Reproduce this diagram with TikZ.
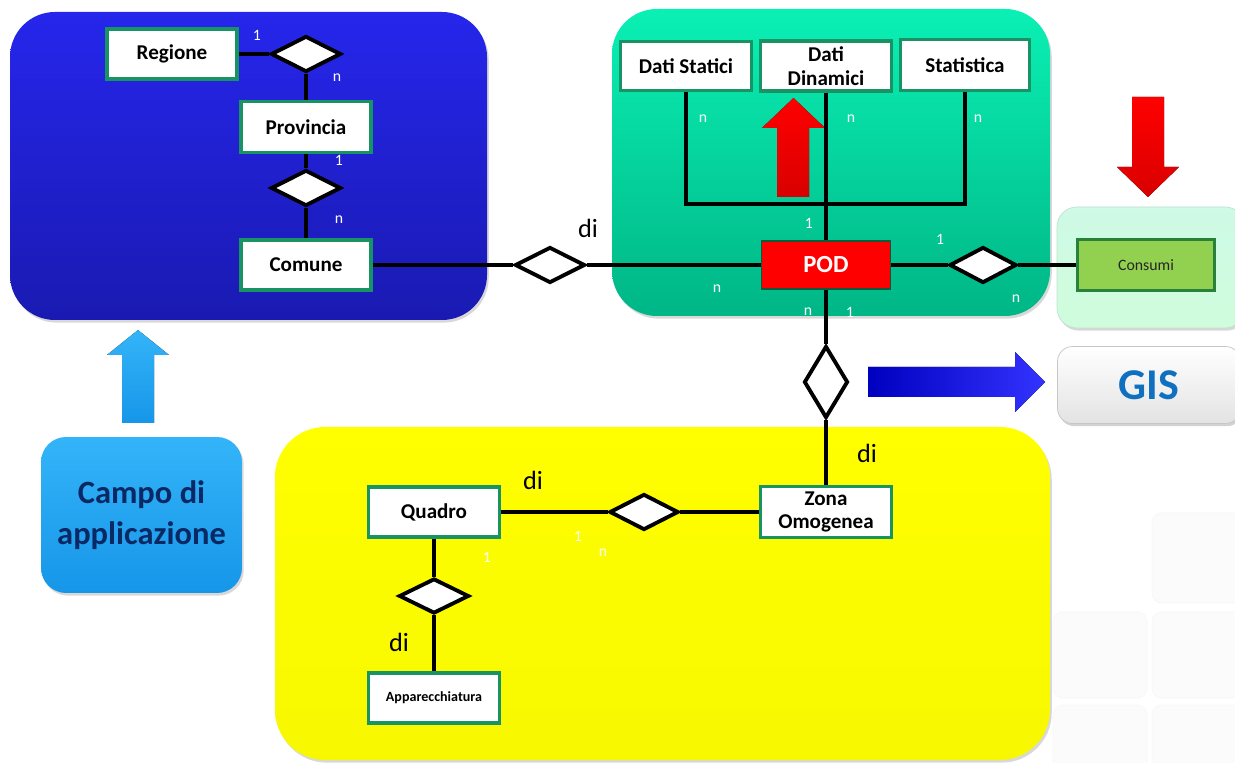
\documentclass[tikz,border=0pt]{standalone}
\usepackage{fontspec}
\setmainfont{Carlito}
\usepackage{tikz}
\usetikzlibrary{shapes.geometric}
\usetikzlibrary{shadows}
\usetikzlibrary{positioning}

\definecolor{erGreen}{RGB}{24,148,100}
\definecolor{panelBlueTop}{RGB}{38,38,236}
\definecolor{panelBlueBot}{RGB}{26,26,178}
\definecolor{panelGreenTop}{RGB}{10,240,180}
\definecolor{panelGreenBot}{RGB}{0,182,134}
\definecolor{panelMint}{RGB}{206,250,230}
\definecolor{skyTop}{RGB}{52,180,248}
\definecolor{skyBot}{RGB}{22,150,232}
\definecolor{campoText}{RGB}{10,40,100}
\definecolor{gisText}{RGB}{16,112,192}
\definecolor{consumiFill}{RGB}{146,208,80}
\definecolor{consumiLine}{RGB}{40,130,60}

\begin{document}
\begin{tikzpicture}
			[x=0.02cm,y=-0.02cm,
			entity/.style={rectangle,draw=erGreen,line width=2pt,fill=white,align=center,
				inner sep=0pt,font=\bfseries\fontsize{12}{13.6}\selectfont},
			relation/.style={diamond,draw=black,line width=2.2pt,fill=white,inner sep=0pt,
				minimum width=1.4cm,minimum height=0.72cm},
			link/.style={line width=2.2pt},
			card/.style={text=white,inner sep=0pt,font=\fontsize{9}{10}\selectfont},
			dilabel/.style={inner sep=0pt,font=\fontsize{15}{16}\selectfont},
			panel/.style={rounded corners=0.9cm,drop shadow={opacity=0.3,shadow xshift=1pt,shadow yshift=-1.5pt}},
			tile/.style={rounded corners=0.2cm,fill=gray!3,draw=gray!6}]
			\useasboundingbox (0,0) rectangle (1235,763);
			\fill[white] (0,0) rectangle (1235,763);
			
			% faint tiles in the background
			\draw[tile] (1152,513) rectangle (1245,603);
			\draw[tile] (1053,612) rectangle (1147,698);
			\draw[tile] (1152,612) rectangle (1245,698);
			\draw[tile] (1053,705) rectangle (1147,775);
			\draw[tile] (1152,705) rectangle (1245,775);
			
			% panels
			\path[panel,top color=panelBlueTop,bottom color=panelBlueBot] (10,12) rectangle (487,320);
			\path[panel,top color=panelGreenTop,bottom color=panelGreenBot] (612,9) rectangle (1050,316);
			\path[panel,rounded corners=0.4cm,top color=panelMint,bottom color=panelMint!85!green!60!white,
				draw=panelMint!80!gray] (1057,207) rectangle (1245,328);
			\path[panel,rounded corners=1cm,top color=yellow,bottom color=yellow!97!black] (275,427) rectangle (1050,760);
			
			\node[rounded corners=0.5cm,top color=skyTop,bottom color=skyBot,minimum width=4.02cm,minimum height=3.12cm,
				drop shadow={opacity=0.3,shadow xshift=1pt,shadow yshift=-1.5pt},align=center,text=campoText,
				font=\bfseries\fontsize{18.5}{23}\selectfont] (campo) at (141.5,515) {Campo di\\applicazione};
			\node[rounded corners=0.3cm,top color=white,bottom color=gray!22,draw=gray!45,minimum width=3.66cm,
				minimum height=1.54cm,drop shadow={opacity=0.35,shadow xshift=1pt,shadow yshift=-1.5pt},
				text=gisText,font=\bfseries\fontsize{25}{28}\selectfont] (gis) at (1149,385) {GIS};
			
			% block arrows
			\fill[top color=skyTop,bottom color=skyBot] (122,423) -- (122,355) -- (107,355) -- (138,330)
				-- (169,355) -- (154,355) -- (154,423) -- cycle;
			\fill[top color=red,bottom color=red!85!black] (777,197) -- (777,128) -- (762,128) -- (793.5,98)
				-- (825,128) -- (809,128) -- (809,197) -- cycle;
			\fill[top color=red,bottom color=red!85!black] (1132,97) -- (1164,97) -- (1164,167) -- (1179,167)
				-- (1148,197) -- (1117,167) -- (1132,167) -- cycle;
			\fill[left color=blue!75!black,right color=blue!80!white] (868,367) -- (1015,367) -- (1015,352) -- (1045,382)
				-- (1015,412) -- (1015,397) -- (868,397) -- cycle;
			
			% entities
			\node[entity,minimum width=2.6cm,minimum height=1cm] (reg) at (172,54) {Regione};
			\node[entity,minimum width=2.6cm,minimum height=1.02cm] (prov) at (306,127) {Provincia};
			\node[entity,minimum width=2.6cm,minimum height=1cm] (com) at (306,265) {Comune};
			\node[entity,minimum width=2.62cm,minimum height=0.98cm] (stat) at (686,66) {Dati Statici};
			\node[entity,minimum width=2.62cm,minimum height=1cm] (dyn) at (826,66) {Dati\\Dinamici};
			\node[entity,minimum width=2.58cm,minimum height=1.02cm] (stc) at (965,65) {Statistica};
			\node[entity,fill=red,draw=erGreen!60!black,line width=1pt,text=white,minimum width=2.58cm,
				minimum height=0.96cm,font=\bfseries\fontsize{14}{16}\selectfont] (pod) at (826,265) {POD};
			\node[entity,fill=consumiFill,draw=consumiLine,minimum width=2.74cm,minimum height=1.02cm,
				text=black!85,font=\fontsize{9}{10}\selectfont] (cons) at (1146,265) {Consumi};
			\node[entity,minimum width=2.62cm,minimum height=1cm] (quad) at (434,512) {Quadro};
			\node[entity,minimum width=2.62cm,minimum height=1.02cm] (zona) at (826,512) {Zona\\Omogenea};
			\node[entity,minimum width=2.62cm,minimum height=1cm,
				font=\bfseries\fontsize{8}{9}\selectfont] (app) at (434,698) {Apparecchiatura};
			
			% relations
			\node[relation] (r1) at (306,54) {};
			\node[relation] (r2) at (306,188) {};
			\node[relation] (r3) at (550,265) {};
			\node[relation,minimum width=1.34cm] (r4) at (983,265) {};
			\node[relation,minimum width=0.88cm,minimum height=1.44cm] (r5) at (826,382) {};
			\node[relation,minimum width=1.38cm] (r6) at (644,512) {};
			\node[relation,minimum height=0.7cm] (r7) at (434,596) {};
			\coordinate (fork) at (826,204);
			
			\foreach \from/\to in 
			{reg/r1, r1/prov, prov/r2, r2/com, com/r3, r3/pod, pod/r4, r4/cons, pod/dyn,
				pod/r5, r5/zona, quad/r6, r6/zona, quad/r7, r7/app}
			\draw[link] (\from) -- (\to);
			\draw[link] (stat.south) |- (fork) -| (stc.south);
			
			% cardinalities
			\foreach \x/\y/\t [count=\i] in 
			{257/35/1, 337/78/n, 339/160/1, 339/220/n, 703/119/n, 851/119/n, 978/119/n, 809/223/1,
				940/239/1, 717/289/n, 1016/299/n, 808/312/n, 850/312/1, 578/536/1, 603/553/n, 487/557/1}
			\node[card] (k\i) at (\x,\y) {\t};
			
			\foreach \x/\y [count=\i] in {588/228, 867/453, 533/480, 399/642}
			\node[dilabel] (di\i) at (\x,\y) {di};
			\end{tikzpicture}
\end{document}
